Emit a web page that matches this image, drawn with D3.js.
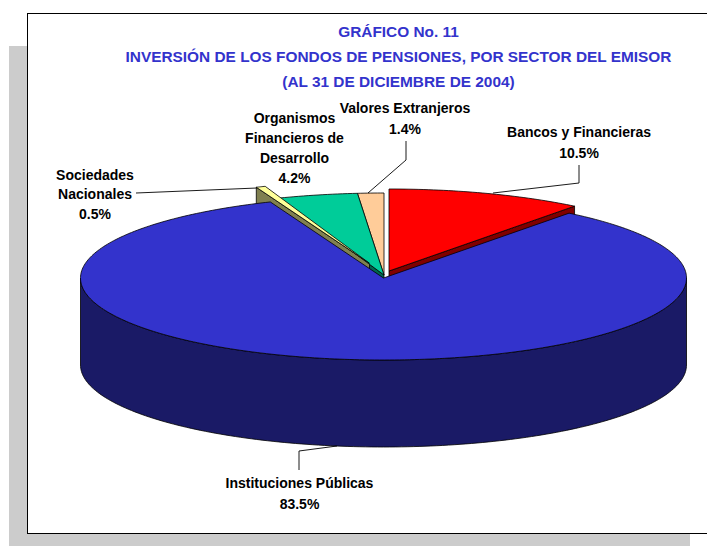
<!DOCTYPE html>
<html><head><meta charset="utf-8">
<script src="https://cdn.jsdelivr.net/npm/d3@7"></script>
<style>html,body{margin:0;padding:0;background:#fff;overflow:hidden}svg{display:block}</style>
</head><body><div id="c"></div>
<script>
const categories = ["Bancos y Financieras","Instituciones Públicas","Sociedades Nacionales","Organismos Financieros de Desarrollo","Valores Extranjeros"];
const values = [10.5,83.5,0.5,4.2,1.4];
const valueLabels = ["10.5%","83.5%","0.5%","4.2%","1.4%"];
const titleLines = ["GRÁFICO No. 11","INVERSIÓN DE LOS FONDOS DE PENSIONES, POR SECTOR DEL EMISOR","(AL 31 DE DICIEMBRE DE 2004)"];
const topColors = ["#ff0000","#3333cc","#ffff99","#00cc99","#ffcc99"];
const sideColors = ["#800000","#1a1a66","#808050","#00664d","#806650"];

const W=707,H=546, cx=383.5, cy=278, rx=303, ry=82, depth=87;
const svg=d3.select("#c").append("svg").attr("width",W).attr("height",H);
svg.append("rect").attr("x",9).attr("y",46).attr("width",681).attr("height",H-46).attr("fill","#cccccc");
svg.append("rect").attr("x",27.5).attr("y",13.5).attr("width",W+10).attr("height",520).attr("fill","#fff").attr("stroke","#000").attr("stroke-width",1);

const xS=d3.scaleLinear().domain([-1,1]).range([cx-rx,cx+rx]);
const yS=d3.scaleLinear().domain([-1,1]).range([cy+ry,cy-ry]);
const arcs=d3.pie().sort(null).value(d=>d)(values);
const offsets=[[5.5,-7],[0,0],[-14,-14.7],[0.5,-3],[0.5,-3]];
const pt=(a,o,dz=0)=>[xS(Math.sin(a))+o[0],yS(Math.cos(a))+o[1]+dz];
function topPath(d,o){
  const p=d3.path(),c=[xS(0)+o[0],yS(0)+o[1]];
  p.moveTo(...c);
  const n=Math.max(8,Math.ceil((d.endAngle-d.startAngle)*60));
  d3.range(n+1).forEach(i=>{p.lineTo(...pt(d.startAngle+(d.endAngle-d.startAngle)*i/n,o));});
  p.closePath();return p.toString();
}
function cutFace(a,o){
  const p=d3.path(),c=[xS(0)+o[0],yS(0)+o[1]],e=pt(a,o);
  p.moveTo(...c);p.lineTo(...e);p.lineTo(e[0],e[1]+depth);p.lineTo(c[0],c[1]+depth);p.closePath();return p.toString();
}
function wall(d,o){
  const a0=Math.max(d.startAngle,Math.PI/2),a1=Math.min(d.endAngle,Math.PI*1.5);
  const p=d3.path(),n=160;
  d3.range(n+1).forEach(i=>{const q=pt(a0+(a1-a0)*i/n,o);i?p.lineTo(...q):p.moveTo(...q);});
  d3.range(n+1).forEach(i=>{const q=pt(a1-(a1-a0)*i/n,o,depth);p.lineTo(...q);});
  p.closePath();return p.toString();
}
function draw(s,dPath,fill,sw){s.append("path").attr("d",dPath).attr("fill",fill).attr("stroke",sw?"#000":"none").attr("stroke-width",sw||0).attr("stroke-linejoin","round");}
const g=svg.append("g");
// visible cut faces of the exploded slices
draw(g,cutFace(arcs[0].endAngle,offsets[0]),sideColors[0],0.8);
draw(g,cutFace(arcs[3].startAngle,offsets[3]),sideColors[3],0.8);
draw(g,cutFace(arcs[2].startAngle,offsets[2]),sideColors[2],0.8);
// exploded slice tops
[4,3,2,0].forEach(i=>draw(g,topPath(arcs[i],offsets[i]),topColors[i],0.8));
// the large slice in front
draw(g,wall(arcs[1],offsets[1]),sideColors[1],0.8);
draw(g,topPath(arcs[1],offsets[1]),topColors[1],0.8);

// leader lines
const leaderPaths=[
 [[493,193],[579,183],[579,165]],
 [[337,446],[299,451],[299,470]],
 [[257,188],[136,193]],
 [[368,193],[406,160],[406,141]]
];
const line=d3.line();
leaderPaths.forEach(l=>svg.append("path").attr("d",line(l)).attr("fill","none").attr("stroke","#000").attr("stroke-width",0.9));

const text=(x,y,t,fill,size)=>svg.append("text").attr("x",x).attr("y",y).attr("text-anchor","middle")
 .attr("font-family","'Liberation Sans',Arial,sans-serif").attr("font-weight","bold").attr("font-size",size).attr("fill",fill).text(t);
[[398.5,37],[398.5,62],[398.5,87]].forEach((p,i)=>text(p[0],p[1],titleLines[i],"#3333cc",15.4));
const labelBlocks=[
 {x:579,ys:[137,158],lines:[categories[0],valueLabels[0]]},
 {x:299.5,ys:[488,509],lines:[categories[1],valueLabels[1]]},
 {x:95,ys:[180,199,219],lines:["Sociedades","Nacionales",valueLabels[2]]},
 {x:294.5,ys:[123,143,163,183],lines:["Organismos","Financieros de","Desarrollo",valueLabels[3]]},
 {x:405,ys:[113,134],lines:[categories[4],valueLabels[4]]}
];
labelBlocks.forEach(b=>b.lines.forEach((t,i)=>text(b.x,b.ys[i],t,"#000",14)));
</script></body></html>
